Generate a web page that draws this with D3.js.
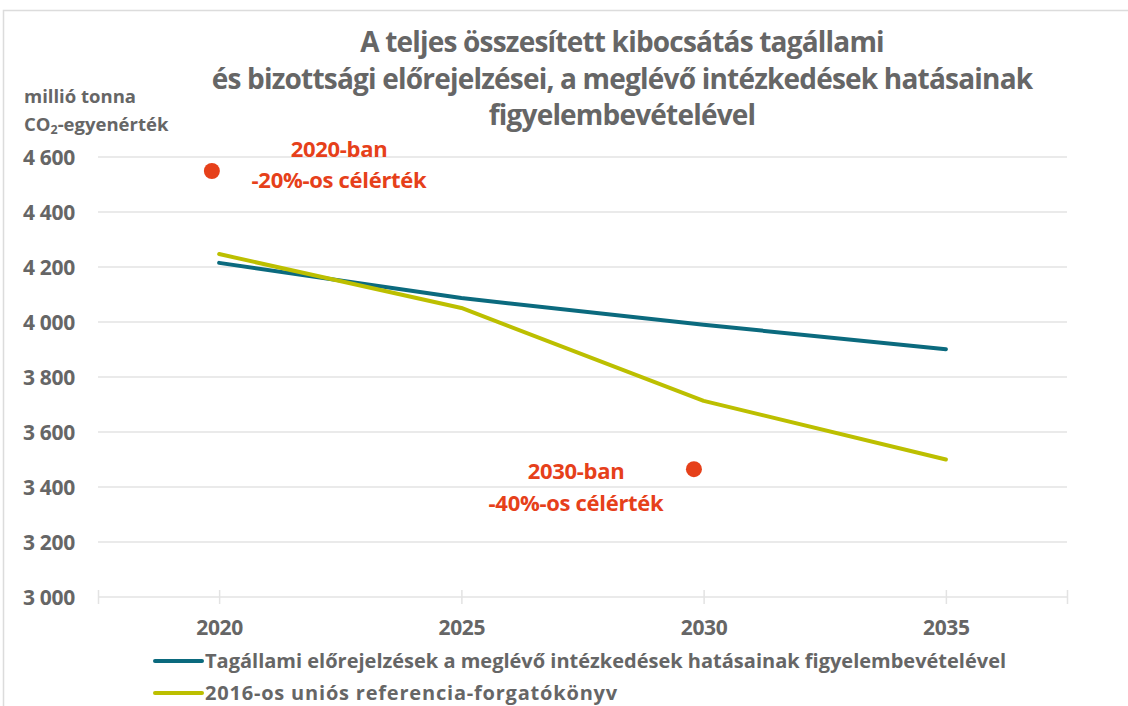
<!DOCTYPE html>
<html><head><meta charset="utf-8">
<script src="https://cdn.jsdelivr.net/npm/d3@7"></script>
<style>body{margin:0;background:#fff}svg{display:block}text{font-family:"Open Sans",sans-serif}</style>
</head><body>
<svg id="c" width="1128" height="706"></svg>
<script>
const years = [2020, 2025, 2030, 2035];
const memberProjections = [4215, 4087, 3990, 3901];
const euReference = [4247, 4051, 3713, 3500];
const targetYears = [2019.85, 2029.8];
const targetValues = [4549, 3465];
const targetLabels = [["2020-ban", "-20%-os célérték"], ["2030-ban", "-40%-os célérték"]];
const yTicks = [3000, 3200, 3400, 3600, 3800, 4000, 4200, 4400, 4600];
const titleLines = ["A teljes összesített kibocsátás tagállami", "és bizottsági előrejelzései, a meglévő intézkedések hatásainak", "figyelembevételével"];
const seriesNames = ["Tagállami előrejelzések a meglévő intézkedések hatásainak figyelembevételével", "2016-os uniós referencia-forgatókönyv"];

const gray = "#666666", blue = "#0b6a7e", olive = "#bcbf00", red = "#e6401a", grid = "#e3e3e3";
const svg = d3.select("#c");
svg.append("path").attr("d", "M3.5,706 V10.5 H1128").attr("fill", "none").attr("stroke", "#dcdcdc").attr("stroke-width", 1.5);

const x = d3.scaleLinear().domain([2017.5, 2037.5]).range([98, 1067]);
const y = d3.scaleLinear().domain([3000, 4600]).range([597, 157]);

// grid
svg.append("g").selectAll("line").data(yTicks.slice(1)).join("line")
  .attr("x1", 98).attr("x2", 1067).attr("y1", d => y(d)).attr("y2", d => y(d))
  .attr("stroke", grid).attr("stroke-width", 1.5);

// x axis
const xa = svg.append("g").attr("transform", `translate(0,${y(3000)})`)
  .call(d3.axisBottom(x).tickValues([2017.5, ...years, 2037.5]).tickSize(7).tickFormat(d => years.includes(d) ? d : ""));
xa.select(".domain").attr("stroke", grid).attr("stroke-width", 1.5).attr("d", "M98,0H1067");
xa.selectAll(".tick line").attr("stroke", grid).attr("stroke-width", 1.5).attr("y1", -7).attr("y2", 7);
xa.selectAll(".tick text").attr("y", 38).attr("dy", 0).attr("fill", gray).attr("font-size", 21).attr("font-weight", 700).attr("letter-spacing", -0.3);

// y axis labels
const ya = svg.append("g").attr("transform", "translate(75,0)")
  .call(d3.axisLeft(y).tickValues(yTicks).tickSize(0).tickFormat(d => d3.format(",")(d).replace(",", " ")));
ya.select(".domain").remove();
ya.selectAll(".tick text").attr("x", 0).attr("dy", "0.36em").attr("fill", gray).attr("font-size", 21).attr("font-weight", 700).attr("letter-spacing", -0.3);

svg.append("text").attr("x", 24).attr("y", 103).attr("fill", gray).attr("font-size", 18.5).attr("font-weight", 700).text("millió tonna");
const co = svg.append("text").attr("x", 24).attr("y", 131).attr("fill", gray).attr("font-size", 18.5).attr("font-weight", 700);
co.append("tspan").text("CO");
co.append("tspan").attr("font-size", 12.5).attr("dy", 3).text("2");
co.append("tspan").attr("dy", -3).text("-egyenérték");

// title
svg.append("g").selectAll("text").data(titleLines).join("text")
  .attr("x", 622).attr("y", (d, i) => 52 + i * 36.5).attr("text-anchor", "middle")
  .attr("fill", gray).attr("font-size", 28).attr("font-weight", 700).attr("letter-spacing", -0.8).text(d => d);

// lines
const line = d3.line().x(d => x(d[0])).y(d => y(d[1]));
[[memberProjections, blue], [euReference, olive]].forEach(([vals, col]) => {
  svg.append("path").datum(years.map((yr, i) => [yr, vals[i]]))
    .attr("d", line).attr("fill", "none").attr("stroke", col).attr("stroke-width", 4).attr("stroke-linecap", "round").attr("stroke-linejoin", "round");
});

// targets
svg.append("g").selectAll("circle").data(targetYears).join("circle")
  .attr("cx", d => x(d)).attr("cy", (d, i) => y(targetValues[i])).attr("r", 8).attr("fill", red);
const labelPos = [[339, 157, 31], [576, 479, 32]];
targetLabels.forEach((lines, k) => {
  svg.append("g").selectAll("text").data(lines).join("text")
    .attr("x", labelPos[k][0]).attr("y", (d, i) => labelPos[k][1] + i * labelPos[k][2]).attr("text-anchor", "middle")
    .attr("fill", red).attr("font-size", 22).attr("font-weight", 700).attr("letter-spacing", -0.3).text(d => d);
});

// legend
[[blue, 661, 0], [olive, 693, 0.8]].forEach(([col, ly, ls], i) => {
  svg.append("line").attr("x1", 155).attr("x2", 202).attr("y1", ly).attr("y2", ly).attr("stroke", col).attr("stroke-width", 4).attr("stroke-linecap", "round");
  svg.append("text").attr("x", 205).attr("y", ly + 6.5).attr("fill", gray).attr("font-size", 20).attr("font-weight", 700).attr("letter-spacing", ls).text(seriesNames[i]);
});
</script>
</body></html>
